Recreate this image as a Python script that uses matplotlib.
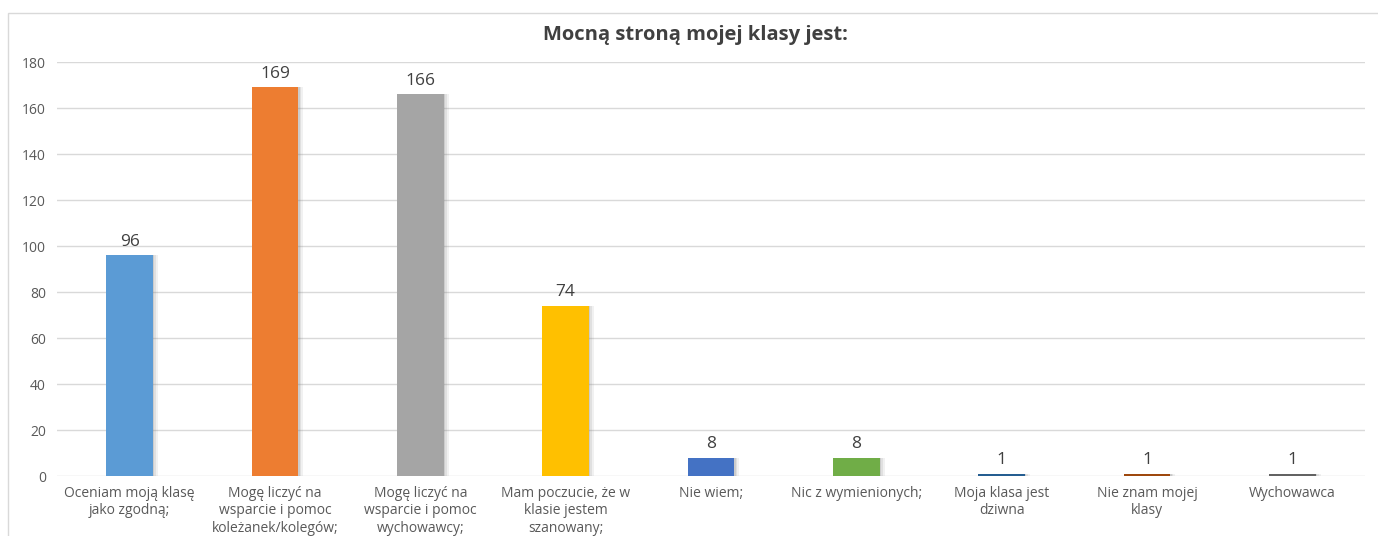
import matplotlib.pyplot as plt
from matplotlib.patches import Rectangle

# dane ankiety
kategorie = [
    'Oceniam moją klasę\njako zgodną;',
    'Mogę liczyć na\nwsparcie i pomoc\nkoleżanek/kolegów;',
    'Mogę liczyć na\nwsparcie i pomoc\nwychowawcy;',
    'Mam poczucie, że w\nklasie jestem\nszanowany;',
    'Nie wiem;',
    'Nic z wymienionych;',
    'Moja klasa jest\ndziwna',
    'Nie znam mojej\nklasy',
    'Wychowawca',
]
wartosci = [96, 169, 166, 74, 8, 8, 1, 1, 1]
kolory = ['#5B9BD5', '#ED7D31', '#A5A5A5', '#FFC000', '#4472C4',
          '#70AD47', '#255E91', '#9E480E', '#636363']
tytul = 'Mocną stroną mojej klasy jest:'

plt.rcParams['font.family'] = ['Open Sans', 'DejaVu Sans']

W, H = 1378, 536
fig = plt.figure(figsize=(W / 100, H / 100), dpi=100)
ax = fig.add_axes([57 / W, (H - 476) / H, 1308 / W, 414 / H])

x = list(range(len(wartosci)))
szer = 0.32

# cień z prawej strony słupków
for dx, a in [(0.035, 0.10), (0.022, 0.15), (0.01, 0.2)]:
    ax.bar([i + dx for i in x], wartosci, width=szer, color='#7F7F7F',
           alpha=a, zorder=2, linewidth=0)
ax.bar(x, wartosci, width=szer, color=kolory, zorder=3, linewidth=0)

for i, v in zip(x, wartosci):
    ax.annotate(str(v), (i, v), xytext=(0, 4), textcoords='offset points',
                ha='center', va='bottom', fontsize=12.5, color='#404040')

ax.set_xlim(-0.5, len(wartosci) - 0.5)
ax.set_ylim(0, 180)
ax.set_yticks(range(0, 181, 20))
ax.yaxis.grid(True, color='#D9D9D9', linewidth=1)
ax.set_axisbelow(True)
for s in ax.spines.values():
    s.set_visible(False)
ax.tick_params(axis='both', length=0, colors='#595959')
ax.tick_params(axis='y', pad=8, labelsize=10)
ax.tick_params(axis='x', pad=7, labelsize=10)
ax.set_xticks(x)
ax.set_xticklabels(kategorie, linespacing=1.22)

fig.text(695 / W, 1 - 35 / H, tytul, ha='center', va='center',
         fontsize=14.5, fontweight='bold', color='#404040')

# ramka wykresu
fig.patches.append(Rectangle((8 / W, -0.05), 1.1, (H - 13) / H + 0.05,
                             transform=fig.transFigure, fill=False,
                             edgecolor='#D9D9D9', linewidth=1))

fig.savefig('out.png', dpi=100)
